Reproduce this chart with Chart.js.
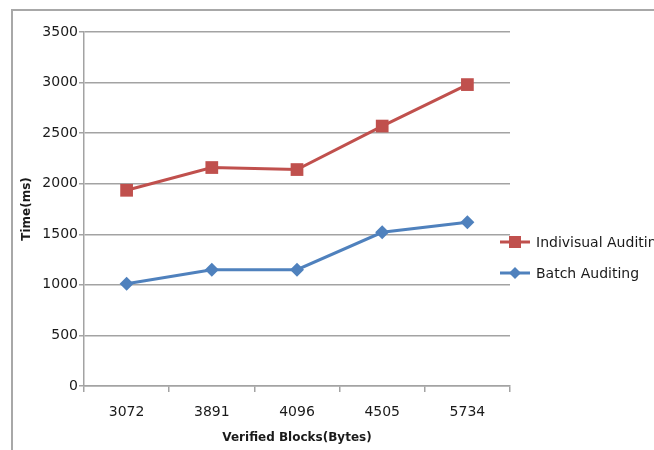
<!DOCTYPE html>
<html>
<head>
<meta charset="utf-8">
<script src="https://cdn.jsdelivr.net/npm/chart.js@4.4.0/dist/chart.umd.min.js"></script>
<style>
  html, body { margin: 0; padding: 0; background: #fff; }
  #wrap { width: 654px; height: 450px; }
</style>
</head>
<body>
<div id="wrap"><canvas id="chart" width="654" height="450"></canvas></div>
<script>
const blockSizes = ['3072', '3891', '4096', '4505', '5734'];
const individualAuditing = [1935, 2160, 2140, 2570, 2980];
const batchAuditing = [1010, 1150, 1150, 1520, 1620];
const seriesNames = ['Indivisual Auditing', 'Batch Auditing'];
const yTicks = [0, 500, 1000, 1500, 2000, 2500, 3000, 3500];

const RED = '#c0504d';
const BLUE = '#4f81bd';
const GRID = '#a3a3a3';
const TEXT = '#1a1a1a';
const FONT = '"DejaVu Sans", sans-serif';

// frame lines (top + left) and the hand drawn legend
const framePlugin = {
  id: 'frame',
  beforeDraw(chart) {
    const ctx = chart.ctx;
    ctx.save();
    ctx.strokeStyle = '#a8a8a8';
    ctx.lineWidth = 2;
    ctx.beginPath();
    ctx.moveTo(12, 450);
    ctx.lineTo(12, 10);
    ctx.lineTo(654, 10);
    ctx.stroke();
    ctx.restore();
  },
  afterDraw(chart) {
    const ctx = chart.ctx;
    const area = chart.chartArea;
    const x0 = area.right - 10;
    let y = area.top + 210;
    ctx.save();
    ctx.font = '14px ' + FONT;
    ctx.textBaseline = 'middle';
    chart.data.datasets.forEach(ds => {
      ctx.strokeStyle = ds.borderColor;
      ctx.lineWidth = 3;
      ctx.beginPath();
      ctx.moveTo(x0, y);
      ctx.lineTo(x0 + 30, y);
      ctx.stroke();
      ctx.fillStyle = ds.backgroundColor;
      if (ds.pointStyle === 'rect') {
        ctx.fillRect(x0 + 15 - 6, y - 6, 12, 12);
      } else {
        ctx.beginPath();
        ctx.moveTo(x0 + 15, y - 6);
        ctx.lineTo(x0 + 21, y);
        ctx.lineTo(x0 + 15, y + 6);
        ctx.lineTo(x0 + 9, y);
        ctx.closePath();
        ctx.fill();
      }
      ctx.fillStyle = TEXT;
      ctx.fillText(ds.label, x0 + 36, y + 1);
      y += 31;
    });
    ctx.restore();
  }
};

new Chart(document.getElementById('chart'), {
  type: 'line',
  data: {
    labels: blockSizes,
    datasets: [
      {
        label: seriesNames[0],
        data: individualAuditing,
        borderColor: RED,
        backgroundColor: RED,
        borderWidth: 3,
        pointStyle: 'rect',
        pointRadius: 9,
        pointBorderWidth: 0,
        tension: 0
      },
      {
        label: seriesNames[1],
        data: batchAuditing,
        borderColor: BLUE,
        backgroundColor: BLUE,
        borderWidth: 3,
        pointStyle: 'rectRot',
        pointRadius: 7,
        pointBorderWidth: 0,
        tension: 0
      }
    ]
  },
  options: {
    responsive: false,
    animation: false,
    layout: { padding: { left: 0, top: 32, right: 144, bottom: 0 } },
    plugins: {
      legend: { display: false },
      tooltip: { enabled: false }
    },
    scales: {
      x: {
        offset: true,
        afterFit(scale) { scale.height = 64; },
        grid: {
          offset: true,
          drawOnChartArea: false,
          color: GRID,
          tickLength: 6,
          lineWidth: 1.5
        },
        border: { color: GRID, width: 1.5 },
        ticks: { color: TEXT, font: { family: FONT, size: 14 }, padding: 12, maxRotation: 0 },
        title: {
          display: true,
          text: 'Verified Blocks(Bytes)',
          color: TEXT,
          font: { family: FONT, size: 12, weight: 'bold' },
          padding: { top: 5, bottom: 5 }
        }
      },
      y: {
        min: 0,
        max: 3500,
        afterFit(scale) { scale.width = 84; },
        afterBuildTicks(scale) { scale.ticks = yTicks.map(v => ({ value: v })); },
        grid: { color: GRID, tickLength: 5, lineWidth: 1.5 },
        border: { color: GRID, width: 1.5 },
        ticks: {
          color: TEXT,
          font: { family: FONT, size: 14 },
          padding: 1,
          callback: v => String(v)
        },
        title: {
          display: true,
          text: 'Time(ms)',
          color: TEXT,
          font: { family: FONT, size: 12, weight: 'bold' },
          padding: { top: 20, bottom: 0 }
        }
      }
    }
  },
  plugins: [framePlugin]
});
</script>
</body>
</html>
